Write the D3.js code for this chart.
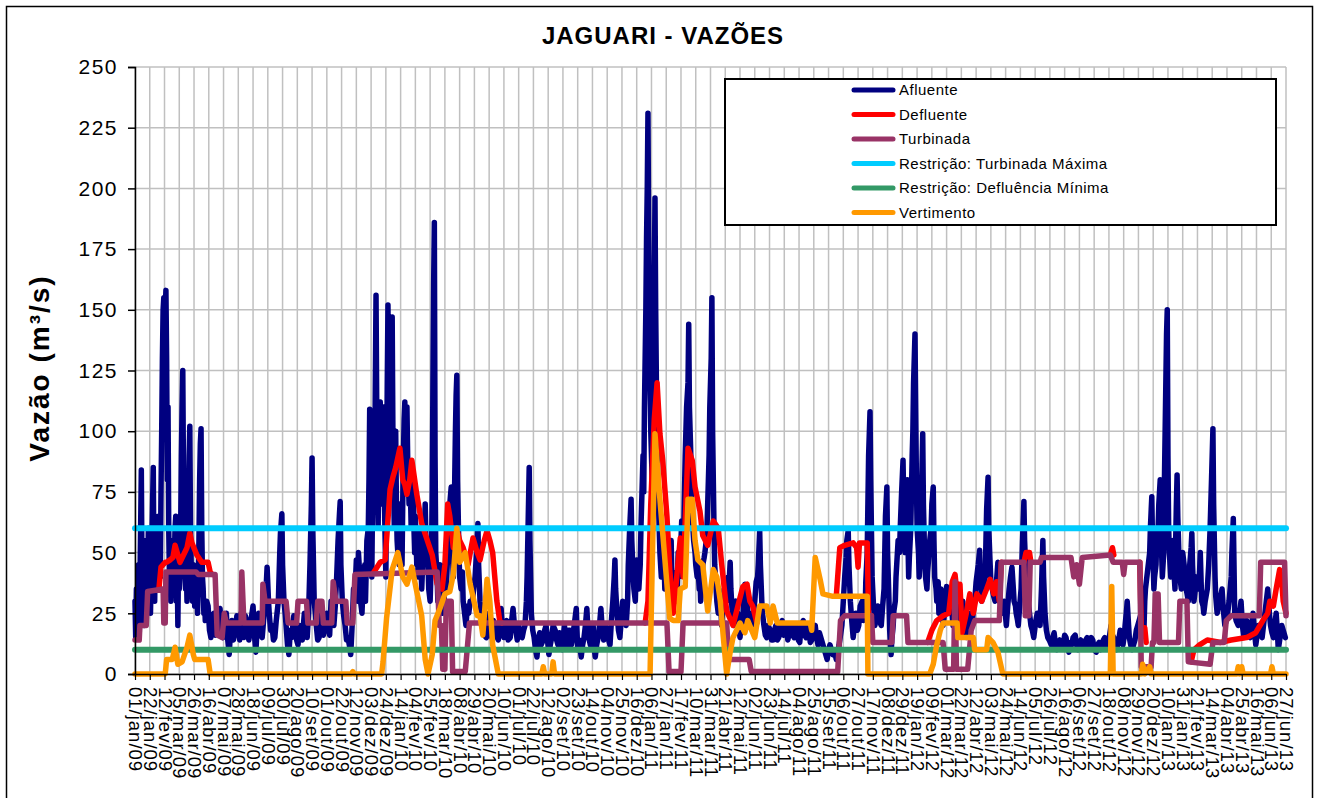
<!DOCTYPE html>
<html>
<head>
<meta charset="utf-8">
<script src="https://cdn.jsdelivr.net/npm/d3@7"></script>
<style>
body { margin: 0; background: white; }
svg { display: block; font-family: "Liberation Sans", Arial, sans-serif; }
</style>
</head>
<body>
<svg id="view" width="1317" height="798"></svg>
<script>
// DATA
var TITULO = "JAGUARI - VAZÕES";
var EIXO_Y = "Vazão (m³/s)";
var MESES = ["jan", "fev", "mar", "abr", "mai", "jun", "jul", "ago", "set", "out", "nov", "dez"];
var INICIO = Date.UTC(2009, 0, 1);
var FIM = Date.UTC(2013, 5, 27);
var PASSO_ROTULOS = 21; // dias entre rotulos do eixo x
var Y_TICKS = [0, 25, 50, 75, 100, 125, 150, 175, 200, 225, 250];

// [dia desde 01/jan/09, vazao]
var afluente = [
    [0,30],[1,15],[2,35],[3,20],[5,45],[6,15],[8,60],[9,84],[10,40],[11,25],[12,50],[13,20],[14,30],[15,55],[16,25],[17,45],[18,35],[19,60],[20,30],[21,45],
    [22,25],[24,55],[26,85],[27,40],[28,30],[29,55],[30,35],[31,60],[32,40],[33,65],[34,35],[35,50],[36,40],[37,75],[38,100],[39,130],[40,150],[41,155],[42,120],[43,150],
    [44,158],[45,130],[46,80],[47,110],[48,60],[49,40],[50,50],[51,30],[52,45],[53,35],[54,55],[55,40],[56,48],[57,60],[58,65],[59,30],[60,45],[61,20],[62,50],[63,35],
    [64,40],[65,60],[66,90],[67,110],[68,125],[69,80],[70,60],[71,50],[72,35],[73,45],[74,30],[75,55],[76,70],[77,90],[78,102],[79,60],[80,45],[81,40],[82,30],[83,45],
    [84,35],[85,28],[86,40],[87,30],[88,35],[89,25],[90,40],[91,55],[92,80],[93,95],[94,101],[95,60],[96,40],[97,35],[98,25],[99,30],[100,22],[102,30],[104,28],[106,18],
    [108,15],[110,24],[112,25],[114,16],[117,18],[119,25],[121,27],[123,17],[125,15],[128,22],[130,25],[132,14],[134,8],[136,18],[138,22],[140,14],[142,17],[145,24],[147,20],[149,14],
    [151,25],[153,20],[155,15],[157,24],[159,22],[162,14],[164,18],[166,24],[168,28],[170,16],[172,9],[174,20],[176,25],[178,17],[181,15],[183,22],[185,30],[187,38],[188,44],[190,30],
    [191,25],[193,18],[195,20],[197,14],[199,15],[201,22],[204,30],[206,50],[207,58],[209,66],[210,45],[212,30],[214,24],[215,20],[217,12],[219,8],[221,18],[223,15],[226,24],[228,20],
    [230,14],[232,12],[234,20],[236,18],[238,14],[241,25],[243,20],[245,15],[247,25],[249,45],[251,70],[252,89],[253,60],[255,30],[257,24],[258,20],[260,14],[262,15],[264,22],[266,25],
    [268,16],[270,18],[273,25],[275,22],[277,16],[279,30],[281,24],[283,20],[285,28],[287,40],[289,55],[291,66],[292,71],[293,45],[295,30],[297,24],[299,20],[301,14],[303,15],[305,12],
    [307,8],[309,20],[311,35],[312,30],[314,40],[315,47],[317,30],[318,50],[320,40],[321,30],[323,25],[325,40],[327,45],[328,30],[330,55],[332,60],[333,80],[334,109],[335,70],[336,50],
    [337,40],[338,70],[339,85],[340,100],[341,80],[342,120],[343,156],[344,110],[345,80],[346,60],[347,90],[348,105],[349,112],[350,90],[351,70],[352,95],[353,105],[354,110],[355,70],[356,55],
    [357,40],[358,80],[359,120],[360,152],[361,110],[362,95],[363,80],[364,100],[365,130],[366,147],[367,100],[368,80],[369,60],[370,75],[371,100],[372,70],[373,55],[374,50],[375,65],[376,45],
    [377,70],[378,55],[379,60],[380,45],[381,70],[382,90],[383,105],[384,112],[385,95],[386,100],[387,110],[388,90],[389,80],[390,70],[391,85],[392,75],[393,60],[394,70],[395,65],[396,80],
    [397,60],[398,50],[399,65],[400,55],[401,45],[402,55],[403,40],[404,50],[405,55],[406,60],[407,45],[408,35],[410,50],[412,60],[413,70],[414,55],[415,45],[417,45],[418,35],[420,30],
    [422,50],[423,75],[424,120],[425,160],[426,186],[427,90],[428,50],[430,40],[431,30],[433,38],[434,45],[436,35],[438,25],[440,30],[441,45],[443,35],[445,50],[447,60],[448,70],[450,77],
    [451,55],[453,40],[454,60],[455,80],[456,100],[457,115],[458,123],[459,80],[461,50],[462,40],[464,35],[466,42],[467,30],[469,25],[471,20],[473,28],[475,25],[477,30],[480,30],[482,35],
    [484,40],[486,50],[488,62],[489,45],[491,30],[493,24],[495,20],[497,16],[500,15],[502,22],[504,25],[506,18],[508,15],[510,22],[512,20],[514,16],[517,14],[519,20],[521,27],[523,18],
    [525,15],[527,20],[529,22],[531,14],[534,15],[536,22],[538,27],[540,20],[542,18],[544,14],[546,20],[548,16],[551,15],[553,18],[555,20],[557,30],[558,40],[560,70],[561,85],[562,55],
    [564,25],[566,18],[568,15],[570,10],[572,7],[574,14],[576,17],[578,12],[581,14],[583,18],[585,20],[587,14],[589,8],[591,12],[593,15],[595,20],[598,18],[600,14],[602,12],[604,17],
    [606,15],[608,10],[611,20],[613,16],[615,12],[617,18],[619,18],[621,12],[623,15],[625,20],[628,27],[629,18],[630,10],[632,14],[635,7],[637,12],[639,15],[641,20],[643,27],[645,16],
    [648,12],[650,16],[652,20],[653,12],[655,7],[657,12],[659,15],[661,20],[663,27],[665,18],[667,14],[669,20],[672,18],[674,14],[676,12],[678,22],[680,30],[682,40],[683,47],[684,35],
    [686,25],[688,18],[690,15],[692,22],[694,30],[696,25],[699,20],[701,30],[702,45],[704,60],[706,72],[707,55],[709,40],[710,35],[712,30],[713,40],[714,47],[716,40],[717,35],[719,45],
    [720,60],[721,70],[722,80],[723,90],[724,75],[725,110],[726,130],[727,150],[728,180],[729,200],[730,231],[731,180],[732,150],[733,120],[734,100],[735,90],[736,80],[737,110],[738,140],[739,160],
    [740,196],[741,150],[742,120],[743,100],[744,80],[745,70],[746,60],[747,50],[748,45],[749,40],[750,45],[751,50],[752,40],[753,45],[754,35],[755,40],[757,45],[758,35],[760,40],[761,50],
    [763,55],[764,40],[766,30],[767,38],[768,35],[770,42],[771,30],[773,50],[774,40],[776,45],[777,55],[778,63],[779,50],[781,60],[782,75],[783,90],[784,100],[785,110],[786,115],[787,120],
    [788,144],[789,110],[790,100],[791,90],[792,70],[793,65],[794,60],[795,55],[797,50],[798,45],[800,40],[801,45],[803,35],[804,40],[805,30],[807,38],[808,45],[810,48],[811,50],[813,55],
    [814,60],[815,70],[816,80],[817,90],[818,110],[819,120],[820,130],[821,155],[822,100],[823,80],[824,60],[825,45],[827,35],[828,30],[830,25],[831,35],[833,30],[834,25],[835,20],[837,30],
    [840,35],[842,30],[844,40],[845,35],[847,46],[848,35],[850,25],[852,20],[853,28],[855,30],[857,22],[858,25],[860,18],[861,15],[863,22],[865,20],[866,30],[868,37],[869,32],[871,30],
    [873,22],[874,25],[876,20],[878,20],[880,25],[882,30],[884,38],[886,40],[887,45],[888,52],[889,59],[890,45],[892,30],[893,25],[895,20],[897,16],[899,15],[901,20],[904,18],[906,14],
    [908,14],[910,18],[912,20],[914,14],[916,15],[918,20],[921,22],[923,16],[925,17],[927,20],[929,14],[932,18],[934,20],[936,16],[938,15],[940,20],[942,18],[944,14],[946,13],[948,20],
    [951,22],[953,16],[955,15],[957,20],[959,18],[961,13],[963,14],[965,18],[968,20],[970,15],[972,12],[974,17],[976,15],[979,12],[981,10],[983,8],[985,6],[987,10],[989,12],[991,10],
    [993,8],[995,10],[998,6],[1000,9],[1002,12],[1004,16],[1006,20],[1008,30],[1010,40],[1012,48],[1013,55],[1015,59],[1016,45],[1018,30],[1020,22],[1022,15],[1024,20],[1026,25],[1028,18],[1030,20],
    [1032,28],[1035,30],[1037,22],[1039,25],[1040,38],[1042,50],[1043,70],[1044,90],[1046,108],[1047,80],[1049,40],[1051,28],[1053,20],[1055,25],[1057,28],[1059,22],[1062,20],[1064,28],[1066,35],[1067,50],
    [1068,65],[1070,77],[1071,50],[1073,30],[1074,18],[1076,8],[1077,14],[1079,20],[1080,26],[1082,30],[1083,40],[1084,45],[1086,55],[1088,50],[1089,60],[1091,75],[1093,88],[1094,70],[1096,50],[1097,65],
    [1099,80],[1100,55],[1101,40],[1102,48],[1104,60],[1105,75],[1106,90],[1107,100],[1108,120],[1110,140],[1111,110],[1112,80],[1113,60],[1115,50],[1116,40],[1118,55],[1119,70],[1120,85],[1121,99],[1122,70],
    [1124,45],[1125,40],[1127,35],[1128,42],[1130,50],[1131,55],[1133,60],[1134,70],[1136,77],[1137,55],[1138,40],[1140,35],[1141,30],[1143,38],[1144,25],[1146,30],[1147,35],[1149,28],[1150,20],[1152,25],
    [1153,30],[1155,36],[1157,25],[1158,30],[1160,35],[1162,28],[1164,20],[1165,25],[1167,25],[1169,32],[1171,37],[1172,28],[1174,20],[1176,26],[1178,30],[1180,22],[1183,15],[1185,20],[1187,25],[1189,22],
    [1191,20],[1193,26],[1195,30],[1197,38],[1200,45],[1202,51],[1203,40],[1205,30],[1207,36],[1210,40],[1211,55],[1212,68],[1214,81],[1215,60],[1217,45],[1218,38],[1220,35],[1222,32],[1224,30],[1226,38],
    [1228,46],[1229,38],[1231,30],[1233,28],[1235,25],[1237,30],[1240,20],[1242,28],[1244,35],[1246,40],[1248,44],[1250,35],[1251,30],[1253,28],[1254,25],[1256,22],[1257,20],[1259,28],[1261,35],[1262,45],
    [1263,55],[1265,71],[1266,55],[1268,40],[1270,34],[1271,30],[1273,25],[1275,20],[1277,18],[1279,15],[1282,22],[1284,25],[1286,22],[1288,20],[1290,35],[1292,55],[1293,40],[1295,25],[1297,18],[1299,15],
    [1301,14],[1304,12],[1306,15],[1308,17],[1310,12],[1312,10],[1314,13],[1316,14],[1318,11],[1321,12],[1323,16],[1325,15],[1327,11],[1329,9],[1331,13],[1333,12],[1335,15],[1338,16],[1340,12],[1342,10],
    [1344,13],[1346,14],[1348,12],[1351,11],[1353,14],[1355,15],[1357,11],[1359,12],[1361,15],[1363,14],[1365,10],[1368,9],[1370,12],[1372,13],[1374,10],[1376,11],[1378,14],[1380,15],[1382,12],[1385,12],
    [1387,16],[1389,20],[1391,16],[1393,15],[1395,12],[1397,10],[1400,14],[1402,18],[1404,14],[1406,12],[1408,16],[1409,20],[1411,26],[1412,30],[1414,20],[1415,15],[1417,12],[1419,10],[1421,12],[1423,14],
    [1425,18],[1427,20],[1429,22],[1432,25],[1434,22],[1436,20],[1437,30],[1438,35],[1440,40],[1442,45],[1444,50],[1445,60],[1447,73],[1448,55],[1450,35],[1451,40],[1453,45],[1454,55],[1456,60],[1457,70],
    [1459,80],[1460,60],[1462,40],[1463,45],[1464,50],[1465,80],[1466,100],[1467,120],[1468,140],[1469,150],[1470,90],[1471,60],[1472,50],[1474,40],[1475,48],[1477,55],[1478,45],[1480,35],[1481,55],[1482,70],
    [1483,82],[1484,65],[1486,45],[1487,40],[1489,35],[1490,42],[1491,50],[1493,45],[1494,40],[1496,35],[1499,30],[1500,38],[1501,45],[1503,52],[1504,58],[1505,45],[1507,30],[1509,35],[1510,40],[1512,38],
    [1513,35],[1515,42],[1516,50],[1517,40],[1518,30],[1520,28],[1521,25],[1523,30],[1526,35],[1528,45],[1530,60],[1532,80],[1534,101],[1535,70],[1537,40],[1538,32],[1540,25],[1542,28],[1543,30],[1545,32],
    [1547,35],[1549,26],[1551,20],[1553,22],[1555,25],[1557,30],[1560,40],[1561,50],[1563,64],[1564,45],[1565,25],[1567,22],[1570,20],[1572,25],[1574,30],[1576,20],[1578,15],[1580,18],[1582,22],[1584,18],
    [1587,15],[1589,20],[1591,25],[1593,18],[1595,12],[1597,16],[1599,20],[1601,18],[1604,15],[1606,20],[1608,25],[1610,30],[1612,35],[1614,26],[1616,20],[1618,17],[1620,15],[1622,20],[1624,25],[1626,16],
    [1627,10],[1629,14],[1632,20],[1634,18],[1637,15]
];

// trechos visiveis (null = coberto pela turbinada)
var defluente = [
    [34,35],[37,44],[43,46],[45,46],[50,47],[54,48],[57,53],[64,46],[74,52],[78,58],[81,54],[88,49],[95,46],[104,46],[107,42],[110,41],[112,null],
    [340,42],[349,46],[356,47],[363,76],[367,81],[371,85],[377,93],[381,80],[384,78],[387,74],[391,80],[394,88],[398,80],[401,74],[408,62],[416,55],[423,49],[430,37],[437,35],
    [441,45],[445,70],[448,65],[453,52],[458,60],[462,55],[467,52],[474,45],[481,56],[487,50],[491,47],[497,55],[501,59],[505,55],[509,50],[515,30],[519,22],[522,21],[524,null],
    [726,21],[730,30],[734,70],[739,105],[743,120],[747,99],[751,88],[757,65],[761,43],[766,25],[771,40],[776,56],[780,40],[784,70],[787,93],[793,88],[797,77],[804,67],[808,57],
    [815,53],[823,63],[830,60],[835,45],[842,26],[851,20],[858,28],[865,36],[871,37],[875,30],[879,28],[885,21],[887,null],
    [998,32],[1003,52],[1010,53],[1022,54],[1027,52],[1029,44],[1031,54],[1042,54],[1044,24],[1048,24],[1050,null],
    [1128,13],[1134,18],[1141,22],[1150,24],[1158,25],[1163,38],[1167,41],[1171,30],[1174,37],[1177,17],[1183,25],[1188,33],[1193,25],[1198,33],[1205,30],[1212,35],[1217,39],
    [1222,33],[1226,38],[1230,30],[1233,46],[1235,null],
    [1265,46],[1268,50],[1273,50],[1275,46],[1277,null],
    [1388,49],[1391,52],[1393,49],[1395,null],
    [1430,46],[1432,19],[1437,19],[1439,13],[1441,null],
    [1503,5],[1507,10],[1515,12],[1526,14],[1545,13],[1560,14],[1582,15],[1595,17],[1605,22],[1612,25],[1615,30],[1620,28],[1624,35],[1629,43],[1632,38],[1634,30],[1638,25]
];

var turbinada = [
    [0,14],[6,14],[7,20],[16,20],[18,34],[40,35],[41,21],[43,21],[44,42],[87,42],[90,41],[114,41],[117,16],[124,15],[127,25],[130,21],[151,21],[152,42],[155,21],[181,21],
    [182,37],[185,30],[215,30],[218,21],[230,21],[232,30],[244,30],[246,21],[258,21],[260,30],[266,30],[268,21],[280,21],[282,38],[286,30],[300,30],[302,21],[310,21],[313,41],[430,42],
    [433,20],[436,20],[438,2],[441,2],[443,30],[450,30],[452,1],[470,1],[476,21],[757,21],[760,1],[777,1],[780,21],[842,21],[845,6],[874,6],[877,1],[1000,1],[1004,22],[1010,24],
    [1048,24],[1050,13],[1077,13],[1079,24],[1098,24],[1100,13],[1150,13],[1153,2],[1165,2],[1167,38],[1169,2],[1185,2],[1190,18],[1195,22],[1230,22],[1233,46],[1265,46],[1267,24],[1272,24],[1274,46],
    [1288,46],[1290,48],[1332,48],[1336,40],[1340,45],[1344,37],[1348,48],[1388,49],[1392,46],[1405,46],[1407,41],[1409,46],[1430,46],[1432,3],[1446,3],[1448,13],[1450,13],[1452,33],[1456,33],[1458,13],
    [1485,13],[1487,30],[1497,30],[1499,5],[1530,4],[1534,13],[1550,13],[1553,22],[1560,24],[1600,24],[1602,46],[1636,46],[1638,24]
];

var turbinadaMaxima = [[0,60],[1638,60]];
var defluenciaMinima = [[0,10],[1638,10]];

var vertimento = [
    [0,0],[43,0],[45,6],[53,6],[57,11],[61,4],[67,5],[74,11],[78,16],[83,8],[85,6],[104,6],[107,0],[308,0],[310,1],[312,0],[351,0],[353,5],[358,23],[366,43],
    [374,50],[381,40],[387,37],[394,44],[401,34],[408,24],[413,6],[417,0],[423,8],[427,22],[434,27],[441,33],[448,34],[453,41],[458,60],[462,46],[470,50],[477,37],[487,24],[491,24],
    [495,16],[501,39],[505,30],[509,12],[517,0],[579,0],[581,3],[583,0],[593,0],[595,5],[597,0],[733,0],[736,44],[740,99],[747,72],[751,58],[757,37],[761,23],[766,22],[773,22],
    [776,35],[783,36],[787,72],[793,72],[797,55],[801,47],[808,45],[815,26],[823,43],[828,40],[833,30],[837,16],[842,0],[847,9],[851,15],[861,21],[868,17],[872,22],[882,15],[889,28],
    [899,28],[904,21],[908,28],[914,21],[961,21],[963,18],[968,48],[975,39],[979,33],[993,32],[1042,32],[1043,0],[1131,0],[1136,4],[1141,12],[1146,18],[1150,21],[1170,21],[1171,15],[1193,15],
    [1195,10],[1212,10],[1214,15],[1221,13],[1228,9],[1235,0],[1388,0],[1390,36],[1392,0],[1432,0],[1434,4],[1437,0],[1444,3],[1446,0],[1568,0],[1570,3],[1572,0],[1575,3],[1577,0],[1616,0],
    [1618,3],[1620,0],[1638,0]
];

var SERIES = [
    {nome: "Afluente", cor: "#000080", dados: afluente},
    {nome: "Defluente", cor: "#ff0000", dados: defluente},
    {nome: "Turbinada", cor: "#993366", dados: turbinada},
    {nome: "Restrição: Turbinada Máxima", cor: "#00ccff", dados: turbinadaMaxima},
    {nome: "Restrição: Defluência Mínima", cor: "#339966", dados: defluenciaMinima},
    {nome: "Vertimento", cor: "#ff9900", dados: vertimento},
];


// CONSTANTS
var LEFT = 135;
var RIGHT = 1286;
var TOP = 67;
var BOTTOM = 674;
var GRID = "#c0c0c0";
var LINE_SIZE = 5.5;


function dia(d) {
    return d3.utcDay.offset(new Date(INICIO), d);
}

function createFrame(svg) {
    svg.append("rect")
        .attr("x", 0).attr("y", 0)
        .attr("width", 1317).attr("height", 798)
        .attr("fill", "white");
    svg.append("rect")
        .attr("x", 6.5).attr("y", 6.5)
        .attr("width", 1306).attr("height", 810)
        .attr("fill", "none")
        .attr("stroke", "black")
        .attr("stroke-width", 1.5)
        ;
    svg.append("text")
        .attr("x", 663)
        .attr("y", 44)
        .attr("text-anchor", "middle")
        .attr("font-size", 24)
        .attr("font-weight", "bold")
        .attr("letter-spacing", 1)
        .text(TITULO)
        ;
    svg.append("text")
        .attr("transform", "translate(49,368) rotate(-90)")
        .attr("text-anchor", "middle")
        .attr("font-size", 28)
        .attr("font-weight", "bold")
        .attr("letter-spacing", 2)
        .text(EIXO_Y)
        ;
}

function createGrid(svg, x, y, datas) {
    var grid = svg.append("g");
    grid.selectAll("line.h")
        .data(Y_TICKS)
        .enter().append("line")
        .attr("x1", LEFT).attr("x2", RIGHT)
        .attr("y1", function(d) { return y(d); })
        .attr("y2", function(d) { return y(d); })
        .attr("stroke", GRID)
        .attr("stroke-width", 1.5)
        ;
    grid.selectAll("line.v")
        .data(datas)
        .enter().append("line")
        .attr("x1", function(d) { return x(d); })
        .attr("x2", function(d) { return x(d); })
        .attr("y1", TOP).attr("y2", BOTTOM)
        .attr("stroke", GRID)
        .attr("stroke-width", 1.5)
        ;
}

function createAxes(svg, x, y, datas) {
    var locale = d3.timeFormatLocale({
        dateTime: "%d/%m/%Y", date: "%d/%m/%Y", time: "%H:%M:%S",
        periods: ["", ""],
        days: ["", "", "", "", "", "", ""], shortDays: ["", "", "", "", "", "", ""],
        months: MESES, shortMonths: MESES
    });
    var fmt = locale.utcFormat("%d/%b/%y");

    var ay = svg.append("g")
        .attr("transform", "translate(" + LEFT + ",0)")
        .call(d3.axisLeft(y).tickValues(Y_TICKS).tickSize(7).tickPadding(10));
    ay.select(".domain").attr("stroke-width", 1.5);
    ay.selectAll(".tick line").attr("stroke-width", 1.5);
    ay.selectAll("text")
        .attr("font-family", "Liberation Sans, Arial, sans-serif")
        .attr("font-size", 21)
        .attr("letter-spacing", 1.5)
        .attr("fill", "black")
        ;

    var ax = svg.append("g")
        .attr("transform", "translate(0," + BOTTOM + ")")
        .call(d3.axisBottom(x).tickValues(datas).tickFormat(fmt).tickSize(6).tickSizeOuter(0));
    ax.select(".domain").attr("stroke-width", 1.5);
    ax.selectAll(".tick line").attr("stroke-width", 1.2);
    ax.selectAll("text")
        .attr("transform", "rotate(90)")
        .attr("x", 13)
        .attr("y", 0)
        .attr("dy", "0.35em")
        .attr("text-anchor", "start")
        .attr("font-family", "Liberation Sans, Arial, sans-serif")
        .attr("font-size", 18.5)
        .attr("letter-spacing", 1)
        .attr("fill", "black")
        ;
}

function createSeries(svg, x, y) {
    var line = d3.line()
        .defined(function(d) { return d[1] !== null; })
        .x(function(d) { return x(dia(d[0])); })
        .y(function(d) { return y(d[1]); });
    var g = svg.append("g");
    for (var i = 0; i < SERIES.length; i++) {
        var s = SERIES[i];
        g.append("path")
            .datum(s.dados)
            .attr("d", line)
            .attr("fill", "none")
            .attr("stroke", s.cor)
            .attr("stroke-width", i == 3 || i == 4 ? 6 : LINE_SIZE)
            .attr("stroke-linejoin", "round")
            .attr("stroke-linecap", "round")
            ;
    }
}

function createLegend(svg) {
    var legend = svg.append("g");
    legend.append("rect")
        .attr("x", 725).attr("y", 79)
        .attr("width", 551).attr("height", 146)
        .attr("fill", "white")
        .attr("stroke", "black")
        .attr("stroke-width", 2)
        ;
    var ly = d3.scaleLinear().domain([0, 5]).range([90, 212.5]);
    for (var i = 0; i < SERIES.length; i++) {
        legend.append("line")
            .attr("x1", 854).attr("x2", 893)
            .attr("y1", ly(i)).attr("y2", ly(i))
            .attr("stroke", SERIES[i].cor)
            .attr("stroke-width", 5)
            .attr("stroke-linecap", "round")
            ;
        legend.append("text")
            .attr("x", 899)
            .attr("y", ly(i))
            .attr("dy", "0.35em")
            .attr("font-size", 15)
            .attr("letter-spacing", 0.5)
            .text(SERIES[i].nome)
            ;
    }
}


// main
function main() {
    var svg = d3.select("#view");
    var x = d3.scaleUtc().domain([new Date(INICIO), new Date(FIM)]).range([LEFT, RIGHT]);
    var y = d3.scaleLinear().domain([0, 250]).range([BOTTOM, TOP]);
    var total = d3.utcDay.count(new Date(INICIO), new Date(FIM));
    var datas = d3.range(0, total + 1, PASSO_ROTULOS).map(dia);

    createFrame(svg);
    createGrid(svg, x, y, datas);
    createSeries(svg, x, y);
    createAxes(svg, x, y, datas);
    createLegend(svg);
}

main();
</script>
</body>
</html>
